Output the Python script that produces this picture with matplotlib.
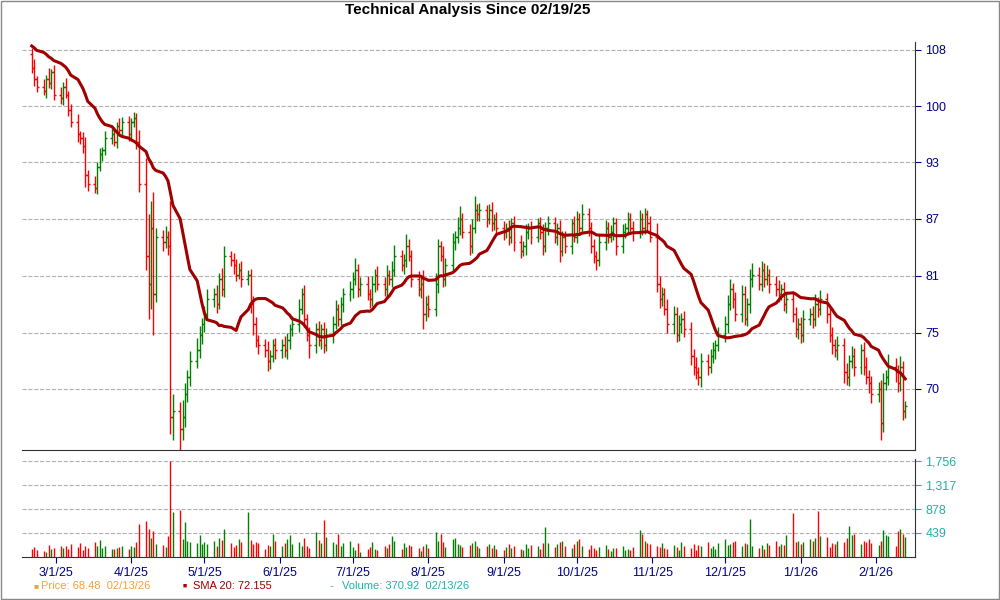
import numpy as np
import pandas as pd
import matplotlib
matplotlib.use("Agg")
import matplotlib.pyplot as plt
import matplotlib.dates as mdates

plt.rcParams['font.family'] = ['Liberation Sans', 'DejaVu Sans']

# closes before the window (only used to start the 20-day SMA)
pre_close = [109, 110, 108.5, 109.5, 110, 109, 108, 109.5, 108, 107.5, 109, 110.5,
             109, 108, 107, 108, 109, 108.5, 107.5]

close_feb25 = [105.5, 104, 103, 102.5, 104, 103.5, 105, 102]
close_mar = [101.5, 103, 102, 100, 98.5, 97, 96.5, 95.5, 92, 91, 90.5, 93, 94.5, 95, 96.5,
             97, 96, 98, 97.5, 98.5, 97]
close_apr = [98.5, 99, 96, 91, 83, 80, 86, 79, 85, 84.5, 85, 84, 67.5, 68, 66.5, 67.5,
             69.5, 71, 72.5, 73.5, 75, 76]
close_may = [77, 78.5, 79, 78, 80.5, 79.5, 83, 82.5, 82, 81, 81.5, 80.5, 81, 78, 76, 74.5,
             74, 73.5, 72.5, 73, 74, 73.5]
close_jun = [74, 73.5, 74.5, 75.5, 76, 77.5, 79, 76.5, 75, 74, 75.5, 74.5, 75.5, 74, 75,
             76, 77.5, 76.5, 78, 79, 79.5]
close_jul = [80.5, 81.5, 79.5, 80, 79, 78.5, 80, 81, 80, 79.5, 81, 80.5, 81.5, 83, 82,
             82.5, 84, 83, 80.5, 79.5, 80, 77, 78]
close_aug = [77.5, 80, 84, 83, 80.5, 82, 84.5, 85, 86, 87, 85.5, 84, 86, 88, 87.5, 88, 87,
             88, 86.5, 87, 86]
close_sep = [85.5, 86, 85, 86.5, 84.5, 83.5, 84, 85.5, 86, 85, 86.5, 85.5, 84, 86, 86.5,
             85, 86, 83.5, 85, 84, 86.5, 85]
close_oct = [87, 86, 87.5, 86, 84, 83, 82.5, 84.5, 86, 85, 85.5, 86.5, 84, 85.5, 86, 87,
             86, 85.5, 87, 86, 87.5, 86.5, 85]
close_nov = [80, 78.5, 79, 77.5, 76, 77, 75, 76, 76.5, 75.5, 73, 72, 71.5, 71, 72.5, 72,
             73, 73.5, 74, 75]
close_dec = [76, 78, 79.5, 78.5, 77, 79, 76.5, 78, 80.5, 81, 80, 81.5, 80.5, 81, 80, 79.5,
             79, 79.5, 78, 78.5, 77, 75.5, 76]
close_jan = [75, 76.5, 77, 76.5, 78, 77.5, 78.5, 77, 75, 74, 73.5, 74, 71.5, 71, 72.5, 73,
             72, 73.5, 72, 71, 70.5, 69.5]
close_feb26 = [70, 67, 70.5, 71, 72, 71.5, 70.5, 72, 68, 68.48]

# extra range above / below the open-close body
ext_hi = [0.8, 1.2, 0.5, 1.0, 0.6, 1.5, 0.4, 0.9,
          1.0, 0.6, 1.2, 0.5, 0.8, 1.0, 0.4, 0.7, 1.1, 0.6, 0.9, 0.5, 0.7, 0.4, 0.8, 0.6,
          0.9, 0.5, 1.0, 0.6, 0.7,
          0.5, 0.8, 0.6, 1.5, 3.0, 4.5, 3.0, 4.0, 1.0, 0.8, 1.2, 0.6, 5.0, 1.5, 0.8, 1.5,
          1.0, 0.7, 0.9, 1.2, 0.8, 0.6,
          0.8, 1.0, 0.6, 0.9, 0.7, 1.2, 1.0, 0.5, 0.8, 0.6, 0.7, 0.9, 0.5, 0.6, 0.8, 0.7,
          0.5, 0.6, 0.9, 0.5, 0.6, 0.7,
          0.6, 0.9, 0.7, 0.5, 0.8, 1.0, 0.6, 0.9, 0.5, 0.7, 0.6, 0.8, 0.5, 0.7, 0.6, 0.8,
          0.9, 0.5, 0.7, 0.6, 0.8,
          0.8, 1.2, 0.6, 0.7, 0.9, 0.5, 0.8, 0.6, 0.9, 0.7, 1.0, 0.5, 0.9, 1.1, 0.6, 0.7,
          1.3, 0.8, 0.6, 0.9, 0.7, 1.5, 0.8,
          0.9, 1.2, 0.8, 0.6, 1.0, 0.7, 0.9, 0.6, 1.2, 1.4, 0.6, 0.9, 1.0, 1.6, 0.7, 0.8,
          0.6, 0.7, 0.9, 0.5, 0.8,
          0.7, 0.5, 0.9, 0.6, 0.8, 0.7, 0.6, 0.9, 0.5, 0.8, 0.6, 0.7, 0.9, 0.6, 0.8, 0.7,
          0.5, 0.9, 0.6, 0.7, 0.5, 0.8,
          0.9, 0.6, 1.2, 0.7, 0.6, 0.8, 0.5, 0.7, 0.9, 0.6, 0.8, 0.7, 0.6, 0.9, 0.5, 0.7,
          0.6, 0.8, 1.0, 0.6, 0.7, 0.5, 0.8,
          1.5, 0.9, 0.7, 0.6, 1.0, 0.8, 0.7, 0.9, 0.6, 0.8, 0.7, 0.6, 0.9, 0.5, 0.8, 0.7,
          0.6, 0.8, 0.5, 0.7,
          0.8, 0.9, 1.0, 0.6, 0.7, 0.9, 0.8, 0.6, 1.1, 1.2, 0.8, 0.9, 0.7, 1.0, 0.6, 0.8,
          0.9, 0.5, 0.7, 0.6, 0.8, 0.7, 0.6,
          0.7, 0.9, 0.6, 0.8, 1.0, 0.7, 0.9, 0.6, 0.8, 0.7, 0.6, 0.9, 0.7, 0.8, 0.6, 0.9,
          0.7, 0.6, 0.8, 0.9, 0.7, 0.6,
          0.6, 0.8, 0.9, 0.7, 1.2, 0.8, 0.6, 1.0, 0.5, 0.4]
ext_lo = [0.6, 0.9, 0.7, 0.5, 1.0, 0.6, 0.8, 0.7,
          0.7, 0.9, 0.5, 0.8, 0.6, 1.0, 0.7, 0.9, 1.4, 0.8, 0.6, 0.7, 0.5, 0.8, 0.6, 0.7,
          0.5, 0.8, 0.6, 0.7, 0.9,
          0.6, 0.7, 0.9, 1.0, 1.5, 3.5, 2.5, 4.0, 0.8, 1.0, 0.7, 0.9, 1.5, 2.0, 1.8, 1.0,
          0.9, 0.7, 0.8, 0.6, 0.7, 0.9,
          0.7, 0.6, 0.8, 0.9, 0.5, 0.7, 0.8, 0.6, 0.9, 0.7, 0.5, 0.8, 0.6, 0.9, 1.0, 0.7,
          0.8, 0.6, 0.9, 0.7, 0.6, 0.8,
          0.7, 0.6, 0.8, 0.9, 0.6, 0.7, 0.5, 0.8, 0.6, 1.2, 0.7, 0.6, 0.9, 0.7, 0.6, 0.8,
          0.5, 0.7, 0.6, 0.8, 0.7,
          0.9, 0.6, 0.8, 0.7, 0.6, 0.9, 0.7, 0.8, 0.6, 0.7, 0.9, 0.6, 0.8, 0.7, 0.6, 0.9,
          0.7, 0.6, 0.8, 0.7, 0.9, 1.5, 0.7,
          0.8, 0.7, 0.9, 0.6, 0.8, 0.7, 0.6, 0.9, 0.7, 0.8, 0.6, 0.9, 0.7, 0.6, 0.8, 0.7,
          0.9, 0.6, 0.8, 0.7, 0.6,
          0.8, 0.6, 0.9, 0.7, 1.0, 0.8, 0.6, 0.9, 0.7, 0.8, 0.6, 0.7, 0.9, 0.6, 0.8, 0.7,
          0.9, 1.2, 0.6, 0.7, 0.8, 0.6,
          0.7, 0.8, 0.6, 0.9, 0.7, 0.8, 1.0, 0.6, 0.9, 0.7, 0.6, 0.8, 0.9, 0.7, 0.6, 0.8,
          0.7, 0.9, 0.6, 0.8, 0.7, 0.9, 0.6,
          0.8, 0.9, 0.7, 0.6, 0.8, 0.9, 0.7, 0.6, 0.8, 0.7, 0.9, 0.8, 0.6, 0.7, 0.9, 0.8,
          0.6, 0.7, 0.8, 0.6,
          0.7, 0.8, 0.6, 0.9, 0.7, 0.8, 0.6, 0.7, 0.9, 0.8, 0.6, 0.7, 0.8, 0.6, 0.9, 0.7,
          0.8, 0.6, 0.7, 0.9, 0.8, 0.7, 0.9,
          0.8, 0.7, 0.6, 0.9, 0.7, 0.8, 0.6, 0.9, 0.7, 0.8, 0.6, 0.9, 1.0, 0.7, 0.8, 0.6,
          0.9, 0.7, 0.8, 0.6, 0.9, 0.8,
          0.7, 1.5, 0.8, 0.6, 0.7, 0.9, 0.8, 0.7, 0.8, 0.6]

volume = [150, 180, 120, 100, 90, 220, 140, 160,
          190, 170, 200, 150, 230, 180, 260, 120, 190, 170, 280, 200, 310, 160,
          190, 140, 150, 170, 180, 200, 150,
          190, 180, 280, 600, 650, 520, 350, 480, 240, 210, 180, 380, 1756, 830, 870,
          320, 640, 300, 280, 250, 410, 230,
          270, 240, 300, 200, 350, 310, 520, 250, 180, 210, 320, 280, 820, 310, 240,
          280, 260, 150, 220, 190, 420, 300,
          190, 260, 320, 410, 230, 280, 200, 350, 190, 170, 460, 310, 250, 680, 360,
          280, 240, 420, 190, 260, 300,
          180, 120, 260, 90, 150, 180, 280, 140, 120, 190, 170, 230, 380, 300, 150,
          260, 180, 220, 200, 160, 110, 190, 240,
          170, 450, 300, 420, 280, 180, 320, 350, 240, 210, 180, 220, 260, 300, 190,
          160, 200, 240, 170, 210, 150,
          120, 180, 230, 160, 200, 150, 130, 240, 170, 220, 190, 150, 260, 550, 250,
          180, 230, 280, 300, 200, 170, 230,
          300, 320, 190, 150, 210, 170, 120, 180, 220, 140, 100, 170, 160, 190, 120,
          150, 130, 180, 490, 420, 300, 260, 230,
          200, 180, 250, 160, 150, 210, 180, 130, 270, 190, 160, 240, 120, 210, 190,
          280, 170, 200, 150, 260,
          330, 220, 240, 280, 300, 190, 260, 230, 690, 200, 170, 220, 140, 250, 210,
          300, 190, 240, 210, 400, 800, 280, 300,
          230, 270, 320, 290, 350, 850, 390, 370, 180, 260, 230, 300, 270, 350, 560,
          400, 420, 230, 300, 280, 320, 260,
          220, 300, 500, 410, 380, 190, 480, 520, 420, 371]

close = np.array(close_feb25 + close_mar + close_apr + close_may + close_jun + close_jul
                 + close_aug + close_sep + close_oct + close_nov + close_dec + close_jan
                 + close_feb26)
n = len(close)
dates = pd.bdate_range("2025-02-19", periods=n)
x = mdates.date2num(dates)

opens = np.concatenate([[pre_close[-1]], close[:-1]])
high = np.maximum(opens, close) + np.array(ext_hi[:n])
low = np.minimum(opens, close) - np.array(ext_lo[:n])
sma = pd.Series(pre_close + list(close)).rolling(20).mean().values[len(pre_close):]
cols = np.where(close >= opens, "#008000", "#ff0000")

fig = plt.figure(figsize=(10, 6), dpi=100)
ax = fig.add_axes([0.022, 0.25, 0.893, 0.68])
axv = fig.add_axes([0.022, 0.072, 0.893, 0.163], sharex=ax)

ax.vlines(x, low, high, colors=cols, lw=1.0)
ax.hlines(opens, x - 0.8, x, colors=cols, lw=1.0)
ax.hlines(close, x, x + 0.8, colors=cols, lw=1.0)
ax.plot(x, sma, color="#a00000", lw=2.2)
ax.set_yscale("log")
ax.set_ylim(64.7, 109.1)
pticks = [70, 75.2, 80.9, 87.0, 93.5, 100.5, 108.0]
ax.set_yticks(pticks)
ax.set_yticklabels(["70", "75", "81", "87", "93", "100", "108"])
ax.yaxis.set_minor_locator(matplotlib.ticker.NullLocator())
ax.yaxis.tick_right()
ax.tick_params(axis="y", colors="#00008b", labelsize=9, length=4)
ax.tick_params(axis="x", bottom=False, labelbottom=False)
ax.grid(axis="y", ls="--", color="#b0b0b0", lw=0.8)
fig.text(0.468, 0.983, "Technical Analysis Since 02/19/25", fontsize=11,
         fontweight="bold", ha="center", va="center")

axv.vlines(x, 0, volume[:n], colors=cols, lw=1.0)
axv.set_ylim(0, 1800)
axv.set_yticks([439, 878, 1317, 1756])
axv.set_yticklabels(["439", "878", "1,317", "1,756"])
axv.yaxis.tick_right()
axv.tick_params(axis="y", colors="#20b2aa", labelsize=9, length=4)
axv.grid(axis="y", ls="--", color="#b0b0b0", lw=0.8)
axv.xaxis.set_major_locator(mdates.MonthLocator())
axv.xaxis.set_major_formatter(matplotlib.ticker.FuncFormatter(
    lambda v, p: f"{mdates.num2date(v).month}/1/{mdates.num2date(v).strftime('%y')}"))
axv.tick_params(axis="x", labelsize=9, colors="#00008b", length=4)
axv.set_xlim(x[0] - 4, x[-1] + 4)

for a in (ax, axv):
    for s in ("top", "left"):
        a.spines[s].set_visible(False)
    a.spines["right"].set_color("#333333")
    a.spines["bottom"].set_color("#333333")

fig.text(0.034, 0.023, "■", color="#f0a040", fontsize=6, va="center")
fig.text(0.041, 0.023, "Price: 68.48  02/13/26", color="#f0a040", fontsize=8, va="center")
fig.text(0.183, 0.023, "■", color="#b00000", fontsize=5, va="center")
fig.text(0.193, 0.023, "SMA 20: 72.155", color="#a00000", fontsize=8, va="center")
fig.text(0.33, 0.023, "-", color="#20b2aa", fontsize=8, va="center")
fig.text(0.342, 0.023, "Volume: 370.92  02/13/26", color="#20b2aa", fontsize=8, va="center")
fig.patches.append(plt.Rectangle((0.001, 0.001), 0.998, 0.997, transform=fig.transFigure,
                                 fill=False, ec="#888888", lw=1))

fig.savefig("out.png", dpi=100)
